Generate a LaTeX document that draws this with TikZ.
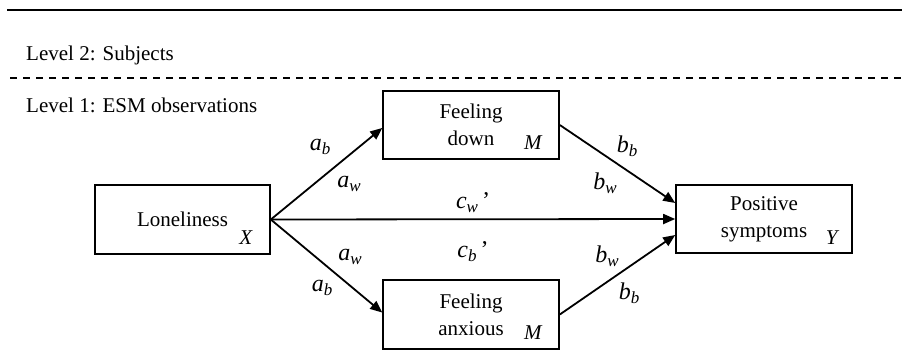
\documentclass[tikz,border=0pt]{standalone}
\usepackage{fontspec}
\setmainfont{Liberation Serif}
\usetikzlibrary{arrows.meta}
\newcommand\symlab[2]{\textit{#1}\raisebox{-0.35ex}{\fontsize{17}{17}\selectfont\textit{#2}}}
\begin{document}
\begin{tikzpicture}[x=1pt,y=-1pt,
  txt/.style={font=\fontsize{21}{27}\selectfont, inner sep=0pt},
  lab/.style={font=\fontsize{24}{27}\selectfont, inner sep=0pt},
  varbox/.style={draw, line width=1.6pt, minimum width=176pt, minimum height=68pt,
    align=center, font=\fontsize{21}{27}\selectfont, inner sep=0pt},
  arr/.style={line width=1.8pt, -{Triangle[length=12pt,width=10pt]}}]
\useasboundingbox (0,0) rectangle (902,354);
% level lines
\coordinate (tl) at (7,10);
\coordinate (tr) at (902,10);
\draw[line width=1.6pt] (tl) -- (tr);
\coordinate (dl) at (10,78);
\coordinate (dr) at (902,78);
\draw[line width=1.6pt, dash pattern=on 7pt off 6pt] (dl) -- (dr);
\node[txt, anchor=base west] (lev2) at (26,60) {Level 2: Subjects};
\node[txt, anchor=base west] (lev1) at (26,112) {Level 1: ESM observations};
% boxes
\node[varbox] (fd) at (471,125) {Feeling\\down};
\node[varbox, minimum width=175pt, minimum height=69pt] (lone) at (182.5,219.5) {Loneliness};
\node[varbox, minimum height=69pt] (fa) at (471,314.5) {Feeling\\anxious};
\node[varbox] (pos) at (764,219) {Positive\\symptoms};
\node[txt, font=\fontsize{21}{27}\selectfont\itshape] (fdm) at ([xshift=-27pt,yshift=17pt]fd.south east) {M};
\node[txt, font=\fontsize{21}{27}\selectfont\itshape] (lonex) at ([xshift=-25pt,yshift=17pt]lone.south east) {X};
\node[txt, font=\fontsize{21}{27}\selectfont\itshape] (fam) at ([xshift=-27pt,yshift=17pt]fa.south east) {M};
\node[txt, font=\fontsize{21}{27}\selectfont\itshape] (posy) at ([xshift=-21pt,yshift=16pt]pos.south east) {Y};
% arrows
\draw[arr] (lone.east) -- ([yshift=-3pt]fd.west);
\draw[arr] (lone.east) -- ([yshift=2pt]fa.west);
\draw[arr] (lone.east) -- (pos.west);
\draw[arr] (fd.east) -- ([yshift=16pt]pos.west);
\draw[arr] (fa.east) -- ([yshift=-16pt]pos.west);
% labels
\node[lab] (ab1) at (320,147) {\symlab{a}{b}};
\node[lab] (aw1) at (349,184) {\symlab{a}{w}};
\node[lab] (cw) at (473,203) {\symlab{c}{w}\,’};
\node[lab] (cb) at (473,252) {\symlab{c}{b}\,’};
\node[lab] (aw2) at (350,257) {\symlab{a}{w}};
\node[lab] (ab2) at (322,288) {\symlab{a}{b}};
\node[lab] (bb1) at (627,146) {\symlab{b}{b}};
\node[lab] (bw1) at (605,183) {\symlab{b}{w}};
\node[lab] (bw2) at (607,256) {\symlab{b}{w}};
\node[lab] (bb2) at (629,293) {\symlab{b}{b}};
\end{tikzpicture}
\end{document}
